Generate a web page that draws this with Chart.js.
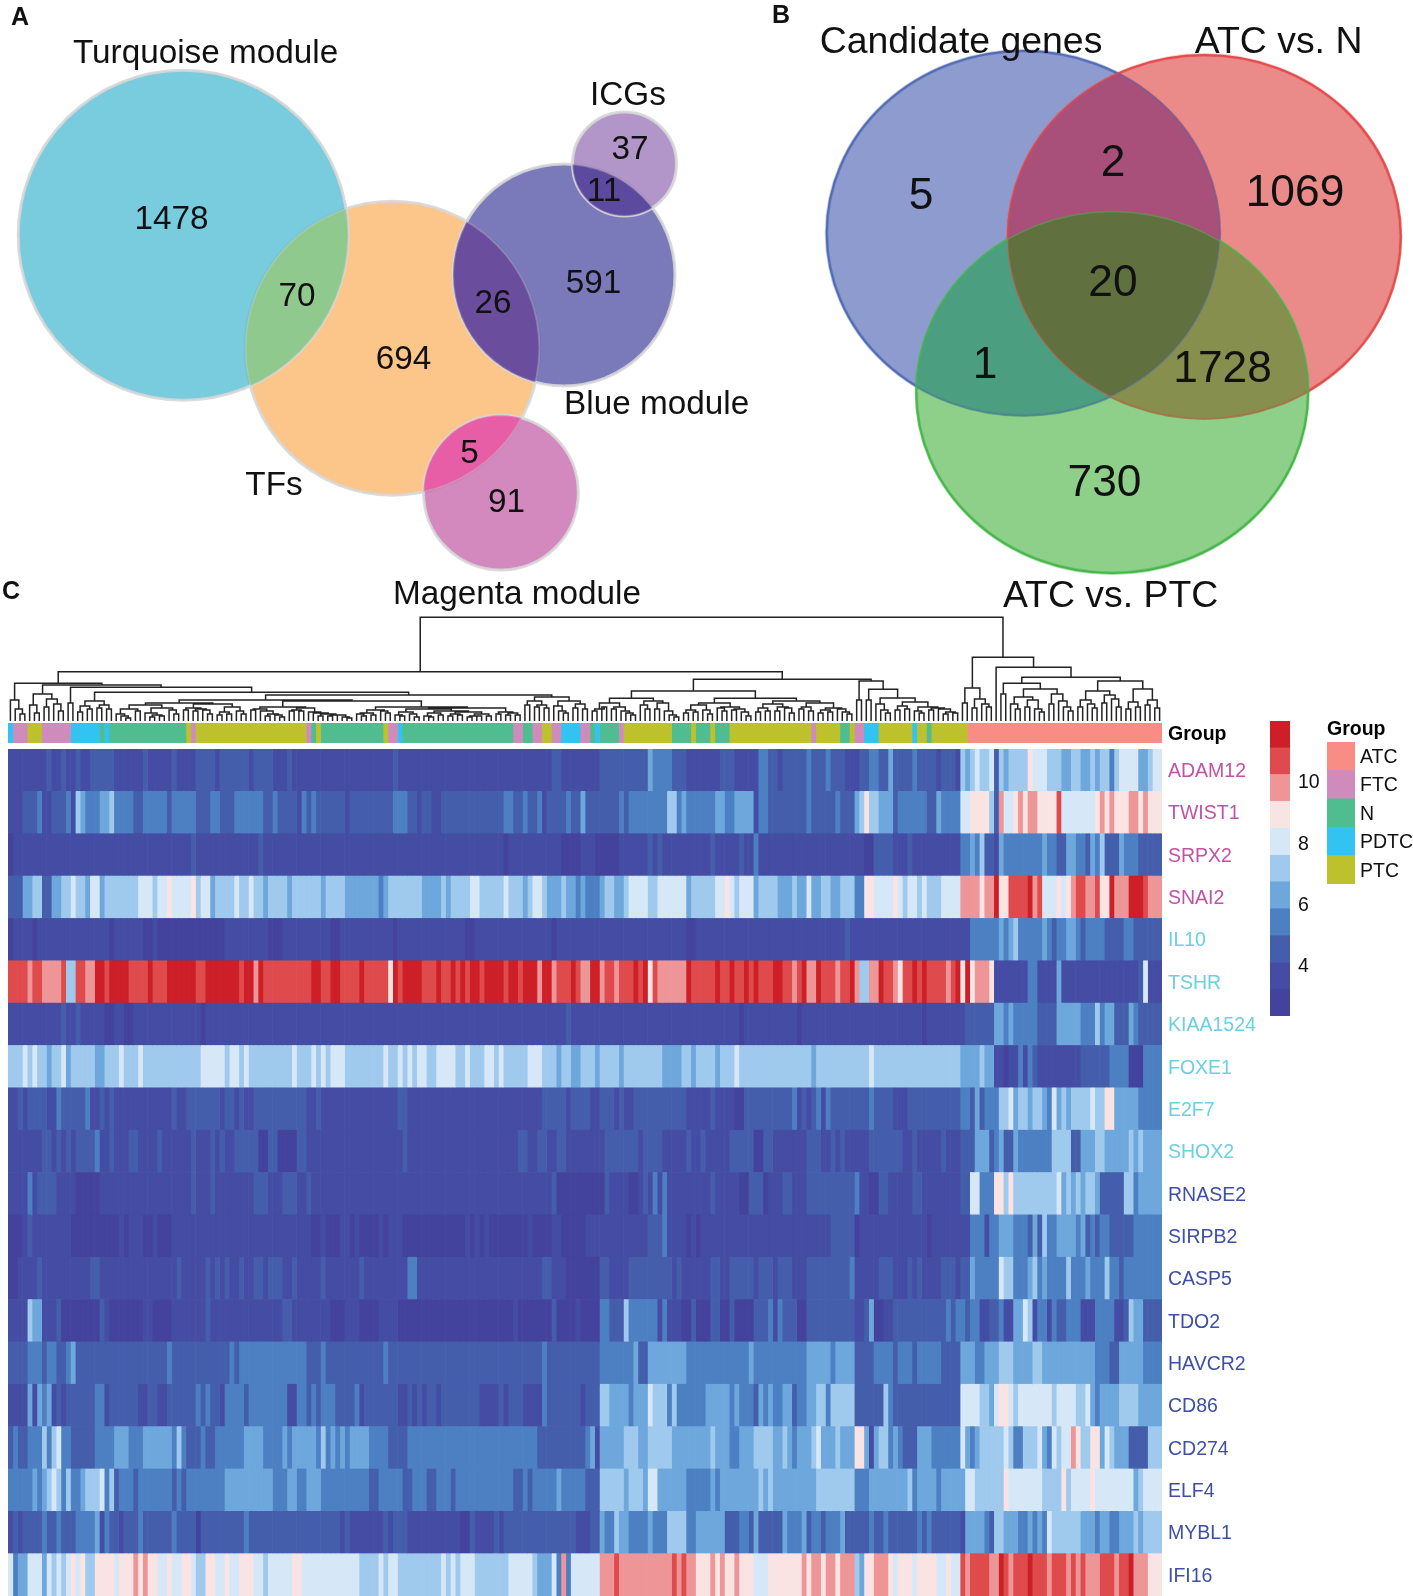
<!DOCTYPE html>
<html>
<head>
<meta charset="utf-8">
<title>Venn diagrams and heatmap</title>
<script src="https://cdn.jsdelivr.net/npm/chart.js@4"></script>
<style>
html, body { margin: 0; padding: 0; background: #fff; overflow: hidden; }
#page { position: relative; width: 1413px; height: 1596px; }
canvas { position: absolute; display: block; }
</style>
</head>
<body>
<div id="page">
  <canvas id="vennChart" width="1413" height="625" style="left:0;top:0"></canvas>
  <canvas id="dendroChart" width="1154" height="110" style="left:8px;top:612px"></canvas>
  <canvas id="groupChart" width="1292" height="32" style="left:8px;top:717px"></canvas>
  <canvas id="heatChart" width="1292" height="847" style="left:8px;top:749px"></canvas>
  <canvas id="barChart" width="70" height="295" style="left:1270px;top:721px"></canvas>
  <canvas id="legendChart" width="86" height="168" style="left:1327px;top:716px"></canvas>
</div>
<script>
const FONT = "'Liberation Sans', Arial, sans-serif";

// venn A circles (centre and radius)
const circleX = [392.4, 183.2, 500.9, 564, 624.5];
const circleY = [348.2, 235.2, 492.7, 274.9, 163.9];
const circleR = [147, 165, 77.4, 111, 52];
const circleFill = ['rgba(250,150,40,.55)', 'rgba(30,170,200,.6)', 'rgba(182,58,147,.6)', 'rgba(50,50,150,.65)', 'rgba(120,70,160,.57)'];

// venn B ellipses
const ellipseX = [1023.1, 1204.3, 1112.2];
const ellipseY = [233.1, 236.7, 392.4];
const ellipseRx = [196.5, 196.5, 196];
const ellipseRy = [182.2, 181.7, 180.7];
const ellipseFill = ['rgba(67,88,175,.6)', 'rgba(220,60,58,.6)', 'rgba(67,177,60,.6)'];
const ellipseLine = ['#4F6AB5', '#E24B4B', '#45B649'];

// colours of the overlaps: shapes are numbered circles first, then ellipses
const overlapShapes = [[0,1],[0,3],[0,2],[3,4],[5,6],[5,7],[6,7],[5,6,7]];
const overlapColors = ['#90C98E','#6A4D9D','#E85EA6','#5C4A9F','#A8507A','#4C9E80','#868F4E','#60703F'];

// text of the top panels: text, x, y, size, bold
const vennLabels = [
  ['A', 20, 18, 25, 1], ['B', 781, 16, 25, 1], ['C', 11, 592, 25, 1],
  ['Turquoise module', 205.6, 54, 33.3], ['ICGs', 628, 96, 33.3], ['Blue module', 656.6, 405, 33.3],
  ['TFs', 274, 486, 33.3], ['Magenta module', 517, 595, 33.3],
  ['1478', 171.5, 220, 33.3], ['70', 297, 297, 33.3], ['26', 493, 304, 33.3], ['591', 593.5, 284, 33.3],
  ['694', 403.5, 360, 33.3], ['37', 630, 150, 33.3], ['11', 604, 192, 33.3], ['5', 469.5, 454, 33.3], ['91', 506.5, 503, 33.3],
  ['Candidate genes', 961, 43, 37.4], ['ATC vs. N', 1278.6, 43, 37.4], ['ATC vs. PTC', 1110.6, 597, 37.4],
  ['5', 921, 197, 44.3], ['2', 1113, 164, 44.3], ['1069', 1295, 194, 44.3], ['20', 1113, 284, 44.3],
  ['1', 985, 366, 44.3], ['1728', 1222.6, 370, 44.3], ['730', 1104.5, 484, 44.3]
];

// sample groups along the top bar: column where each run starts, and its group
const groupNames = ['ATC', 'FTC', 'N', 'PDTC', 'PTC'];
const groupColors = ['#F98D86', '#D08BBD', '#4FBD8F', '#33C3F3', '#BDC22C'];
const groupStarts = [0,1,4,7,13,19,20,21,37,38,39,62,63,64,65,78,79,81,82,105,107,109,111,113,115,119,121,122,123,127,128,138,142,143,146,147,150,167,168,173,175,176,178,181,188,189,191,192,199.5,240];
const groupRuns = ['PDTC','FTC','PTC','FTC','PDTC','N','PDTC','N','PTC','FTC','PTC','FTC','N','PTC','N','PTC','FTC','PDTC','N','FTC','N','FTC','PTC','FTC','PDTC','FTC','N','PDTC','N','FTC','PTC','N','PTC','N','PTC','N','PTC','FTC','PTC','N','PTC','FTC','PDTC','PTC','PDTC','PTC','N','PTC','ATC'];

// colour scale
const scaleBreaks = [2.33,3.21,4.08,4.96,5.84,6.72,7.59,8.47,9.35,10.23,11.1,11.98];
const scaleColors = ['#43429C','#444DA3','#455EAC','#4C80C3','#6DA7DC','#9FC9ED','#D6E8F8','#FAE3E3','#EE9697','#DF4B4C','#CC1F27'];
const scaleTicks = [4,6,8,10];

// dendrogram: [height, left, right], 0 is one sample
const a0 = [21,0,[12,0,[7,0,0]]];
const a1 = [16,0,[8,0,0]];
const a2 = [22,[14,0,0],[17,0,[10,0,0]]];
const a3 = [18,0,0];
const a4 = [20,[15,[9,0,0],[12,0,0]],[16,[13,0,0],[12,0,0]]];
const b0 = [16,[12,[7,0,[5,0,[3,0,0]]],[10,0,0]],[13,[8,0,[6,[4,0,0],[5,0,0]]],[11,0,[7,0,0]]]];
const b1 = [17,[13,[11,0,0],[12,[10,0,0],[11,0,[7,0,0]]]],[14,[9,[6,0,0],[7,0,0]],[10,0,[7,0,0]]]];
const c0 = [14,[12,[11,0,0],[10,0,[7,[5,0,0],[6,0,[4,0,0]]]]],[13,[11,[10,0,0],[10,0,0]],[9,0,[8,0,[7,[5,0,0],[6,[5,0,0],[6,0,[4,0,[3,0,0]]]]]]]]];
const d0 = [11,[8,[7,0,[5,0,0]],[6,0,0]],[10,0,[8,0,0]]];
const d1 = [12,[9,[6,0,[5,0,0]],[7,0,[4,0,0]]],[10,[8,[5,0,[4,0,0]],[6,0,0]],[9,[7,[5,0,0],[6,0,0]],[7,[5,[4,0,0],[5,0,0]],[5,0,0]]]]];
const e0 = [9,[7,0,0],[8,[6,0,0],[6,0,0]]];
const f0 = [20,[16,0,0],[16,[14,0,0],[13,0,0]]];
const f1 = [20,[15,0,[10,0,[8,0,0]]],[17,[13,0,0],[12,0,0]]];
const g0 = [18,[12,[10,0,0],[14,0,0]],[14,[12,0,0],[10,0,[8,0,[6,0,0]]]]];
const g1 = [20,[16,0,[12,0,0]],[18,[12,0,0],[10,0,[6,0,[4,0,0]]]]];
const g2 = [18,[16,[11,[8,0,0],[9,0,0]],[11,0,[7,0,0]]],[14,[13,0,[10,0,0]],[12,[11,0,0],[9,0,[5,0,0]]]]];
const g3 = [20,[17,[13,[9,0,0],[10,0,0]],[14,[10,0,0],[13,0,[8,0,0]]]],[18,[14,[12,0,0],[10,0,0]],[13,[11,[8,0,0],[9,0,0]],[12,0,[9,0,[7,0,0]]]]]];
const h0 = [17,0,[11,0,[8,0,0]]];
const h1 = [15,[11,0,0],[12,0,0]];
const h2 = [14,[10,0,[8,0,0]],[13,[11,0,0],[12,0,[9,[7,0,0],[8,0,0]]]]];
const r0 = [33,[18,0,0],[22,[13,0,0],[17,0,[14,0,0]]]];
const r1 = [24,[17,0,[12,0,0]],[21,[14,0,0],[12,0,[9,0,0]]]];
const r2 = [27,[17,0,0],[20,0,[14,0,[10,0,0]]]];
const r3 = [21,[14,0,0],[17,0,[13,0,0]]];
const r4 = [26,[18,0,0],[22,0,[14,0,0]]];
const r5 = [19,[12,0,0],[14,0,0]];
const r6 = [21,[16,0,0],[13,0,0]];
const dendroTree = [103.7,
  [49.3,
    [37.7,a0,[36,[27,a1,a2],[33.7,a3,[28.7,a4,[26,[21,[18,b0,b1],[20,c0,[14,d0,[13,d1,e0]]]],[24,f0,f1]]]]]],
    [41.7,[30,[22.7,g0,g1],[22.7,g2,g3]],[40,[21,0,0],[31.7,[21,0,0],[23,h0,[19,h1,h2]]]]]],
  [63.7,r0,[53.7,0,[43.7,[37.7,[27,0,0],[32,r1,r2]],[40,[30,r3,r4],[32,r5,r6]]]]]];

// heatmap rows: start column, colour step, start column, colour step ...
const ADAM12 = [0,1,8,2,9,1,11,2,12,1,14,2,15,1,17,2,22,1,28,2,29,1,34,2,35,1,39,2,43,1,44,2,50,1,51,2,55,1,58,2,59,1,80,2,81,1,113,2,115,1,123,2,133,4,134,3,138,2,141,1,148,2,151,1,156,2,156,3,158,2,160,1,161,2,166,3,167,2,170,3,171,2,174,1,177,2,179,3,181,2,183,4,184,2,188,3,189,2,193,1,194,2,197,1,198,5,199,4,200,5,201,6,202,5,204,6,205,2,206,5,207,4,208,5,212,7,213,6,216,5,219,4,221,5,223,4,225,5,226,4,227,5,229,3,230,5,231,6,235,4,237,5,238,6];
const TWIST1 = [0,1,3,2,6,3,7,1,9,2,12,3,13,1,14,5,15,4,16,3,19,4,21,5,22,3,26,2,28,3,33,2,34,3,39,2,42,3,44,2,47,3,53,2,55,3,56,2,60,1,61,3,62,2,63,3,64,2,70,1,71,2,80,3,83,2,85,1,86,2,88,1,90,2,103,3,105,2,107,3,108,2,110,3,111,1,112,2,116,3,117,2,119,4,120,2,127,3,128,2,129,3,137,5,139,3,140,4,141,3,147,4,149,3,151,4,155,1,156,3,158,2,166,3,167,2,172,3,173,2,176,4,177,5,178,7,179,5,181,4,184,2,185,3,191,2,193,4,194,3,198,6,200,7,204,5,205,2,206,8,207,6,209,7,210,8,211,7,212,8,213,7,213,8,214,7,218,9,219,6,226,7,227,8,228,7,229,8,230,7,233,8,235,7,236,8,237,7];
const SRPX2 = [0,0,1,1,38,2,39,1,52,2,53,1,103,0,104,1,115,0,119,1,122,0,127,1,133,2,134,1,135,2,136,1,146,2,147,1,152,2,153,1,155,3,156,1,178,0,180,2,184,1,187,2,188,1,198,3,200,4,201,3,202,5,203,2,205,1,206,4,207,3,215,4,216,3,218,2,220,4,222,3,224,2,225,4,226,3,227,5,228,2,231,4,232,3,235,2];
const SNAI2 = [0,2,3,4,5,5,7,2,9,4,11,5,13,6,14,5,16,4,17,6,19,4,20,5,27,6,30,5,31,6,33,7,34,6,38,7,39,5,40,6,42,4,43,5,47,6,48,5,50,6,51,5,53,4,54,5,58,4,59,5,65,4,66,5,70,4,77,3,78,4,79,5,86,4,90,5,91,4,92,5,93,4,93,5,96,6,98,5,103,6,104,5,107,4,108,5,109,6,111,5,112,4,115,5,116,4,118,3,119,4,120,3,123,4,124,5,126,4,128,5,129,6,133,5,135,6,141,4,142,5,147,6,149,7,150,6,151,5,152,6,155,4,156,5,160,4,163,5,164,4,166,6,167,4,169,5,171,4,173,5,176,3,178,7,180,6,184,7,185,6,186,5,187,6,189,5,190,6,191,5,194,6,198,8,202,7,203,8,205,10,206,7,208,9,212,10,213,8,214,9,215,6,218,7,219,6,220,7,221,8,222,9,224,8,226,9,227,7,229,10,230,8,233,10,236,9,237,8];
const IL10 = [0,0,1,1,5,0,6,1,21,0,22,1,28,0,30,1,31,0,45,1,54,0,57,1,67,0,69,1,80,0,81,1,95,0,97,1,113,0,114,1,141,0,143,1,174,2,175,1,200,3,206,4,207,3,208,4,209,5,210,3,215,4,216,3,217,2,218,3,220,4,222,3,223,2,224,3,228,2,232,3,234,2];
const TSHR = [0,9,4,8,5,9,7,8,11,9,12,5,14,9,16,8,18,10,20,9,21,10,25,9,29,10,30,9,33,10,39,9,41,10,48,9,49,10,51,8,52,10,53,9,63,10,65,9,67,10,69,9,73,10,74,9,79,7,80,10,81,9,82,10,86,9,89,10,90,9,92,10,93,9,94,10,95,9,96,10,98,9,99,10,103,9,104,10,106,9,107,10,110,8,111,10,113,8,114,9,117,10,118,9,119,8,121,10,123,8,124,9,126,8,127,9,130,10,131,9,132,10,133,7,134,9,135,8,141,10,142,9,147,10,148,9,150,10,151,9,153,10,154,9,155,10,156,9,159,10,161,9,163,8,164,9,165,10,166,8,168,10,169,9,172,8,173,9,175,10,176,8,177,5,179,8,181,10,182,9,184,8,185,7,186,9,188,10,189,9,190,10,191,9,195,8,196,9,197,10,198,7,199,10,200,7,201,8,204,7,205,1,212,3,214,1,218,4,219,1,235,2,236,6,237,1];
const KIAA1524 = [0,1,11,2,12,1,14,2,15,1,20,0,22,1,24,0,26,1,40,0,41,1,116,2,117,1,152,0,153,1,164,0,165,1,190,0,191,1,199,2,205,4,207,3,208,4,209,3,214,2,218,4,223,3,226,5,227,3,228,4,230,2,233,4,234,3,235,2];
const FOXE1 = [0,5,3,6,4,5,5,6,6,5,8,4,9,5,11,6,12,4,13,5,18,4,20,5,23,6,24,5,27,6,28,5,40,6,45,5,46,6,48,5,49,6,50,5,59,6,60,5,63,6,64,5,65,6,66,5,67,6,70,5,78,6,79,5,81,6,82,5,83,6,84,5,85,6,87,5,89,6,93,5,95,6,96,5,99,6,101,5,102,6,103,5,108,6,111,5,114,4,115,5,117,4,119,5,122,4,123,5,127,4,128,5,136,4,140,5,142,4,143,5,147,4,148,5,151,6,152,5,167,4,168,5,179,6,180,5,198,4,202,5,203,4,205,1,207,0,208,1,210,3,211,1,212,3,213,2,214,1,223,2,229,3,233,0,236,3];
const E2F7 = [0,1,2,2,3,1,4,2,8,1,10,3,11,2,16,3,17,1,19,2,20,1,21,2,22,1,34,2,35,1,37,2,44,1,45,2,47,1,48,2,49,1,51,2,62,1,64,2,65,1,81,2,83,1,111,2,116,1,117,2,121,1,123,2,126,1,127,2,128,1,130,2,141,1,146,2,147,1,151,0,153,2,163,3,164,1,165,2,166,1,167,2,168,3,169,1,170,3,171,2,179,3,180,2,184,1,187,2,198,3,200,2,201,4,202,2,203,3,206,5,208,6,209,4,210,5,212,4,213,5,215,4,216,3,217,6,218,4,219,5,220,4,221,5,225,6,226,5,228,7,230,4,235,3];
const SHOX2 = [0,1,7,2,9,1,10,2,11,1,12,2,13,1,14,2,18,3,19,1,21,2,22,1,25,2,27,1,31,2,32,1,38,2,39,1,42,2,43,1,44,2,45,1,47,2,52,0,54,2,56,0,60,2,62,1,82,2,83,1,106,2,108,1,110,2,112,1,114,2,116,1,124,2,131,1,132,2,136,1,138,1,141,2,142,1,144,2,145,1,150,2,155,0,157,2,159,1,166,2,169,1,171,2,172,1,173,2,174,1,179,2,186,1,188,2,189,1,194,2,195,1,198,2,201,4,204,2,205,3,206,4,207,2,209,4,210,3,217,5,221,2,223,4,226,5,228,4,233,5,234,4,235,5,236,4];
const RNASE2 = [0,1,4,3,5,1,6,2,10,1,14,0,19,1,38,2,39,1,42,2,43,1,51,2,54,1,57,2,60,1,62,2,63,1,113,2,114,0,119,0,124,2,125,1,129,0,131,1,132,2,133,1,134,3,135,1,136,3,137,1,146,2,147,1,152,0,154,2,157,0,158,1,161,2,163,1,166,2,176,3,177,1,179,0,181,2,183,1,188,2,190,1,198,2,200,6,202,3,205,7,207,5,208,7,209,5,218,6,219,4,220,5,221,4,222,5,223,4,224,5,226,4,227,2,232,5,234,3,235,4];
const SIRPB2 = [0,0,3,1,4,2,5,1,13,0,23,1,24,0,25,1,28,0,30,1,31,0,34,1,63,0,65,1,66,0,69,1,71,0,72,1,73,0,77,1,78,0,79,1,82,0,95,1,96,0,97,1,98,0,99,1,100,0,108,1,109,0,113,1,115,0,120,1,133,2,136,3,137,1,141,0,142,1,143,0,144,1,171,2,176,0,177,1,191,0,192,1,200,3,203,1,204,3,206,4,209,3,212,2,213,4,214,2,215,5,216,3,218,4,222,3,223,4,224,2,225,3,226,2,227,3,229,2,234,3];
const CASP5 = [0,0,2,1,6,2,7,1,17,2,19,1,35,2,36,1,41,2,42,1,43,2,44,1,45,2,46,1,48,2,49,1,51,2,53,1,54,2,57,1,59,2,60,1,65,2,66,1,73,2,74,1,83,3,85,1,111,2,113,1,116,0,123,2,125,1,129,2,138,1,139,2,140,1,146,2,148,1,150,2,155,1,156,2,159,1,160,2,163,1,166,2,175,3,176,1,181,2,184,1,187,2,188,1,189,2,190,1,194,2,197,1,198,2,200,4,201,3,206,6,207,5,209,3,212,4,213,5,214,3,215,4,216,3,220,5,221,3,224,4,225,3,228,5,229,3,231,2,232,3];
const TDO2 = [0,1,4,5,5,4,7,1,10,2,11,0,19,2,20,1,21,0,28,1,30,0,34,1,41,2,42,1,57,2,59,1,67,0,70,1,73,0,77,1,81,0,105,1,106,0,113,2,114,0,118,1,119,0,123,3,125,2,128,5,129,3,135,1,136,3,137,1,140,0,142,2,143,0,146,2,148,0,150,2,151,0,155,2,158,3,159,1,160,3,161,2,164,0,166,2,176,1,178,2,179,4,180,0,182,1,184,2,195,3,196,2,197,3,199,2,200,3,202,1,204,2,206,3,207,1,209,4,211,6,212,5,213,1,214,3,216,1,217,3,218,2,220,3,223,1,226,3,230,1,232,2,233,5,234,4,236,2];
const HAVCR2 = [0,2,4,3,7,2,8,3,10,2,12,3,13,4,14,2,33,3,34,2,46,3,47,2,48,3,62,2,65,3,66,2,78,3,79,2,111,3,112,2,123,3,130,4,131,2,133,4,141,3,154,4,155,3,166,4,171,3,172,4,173,3,173,4,176,2,180,3,184,2,185,3,188,2,189,3,194,2,198,4,201,3,203,4,206,5,209,4,213,5,215,4,226,3,229,2,231,4,236,3];
const CD86 = [0,1,4,4,5,1,6,4,7,3,8,4,9,1,10,2,11,1,12,2,18,3,20,1,21,2,27,1,29,2,31,1,33,2,39,3,40,2,41,3,42,2,44,1,45,3,49,2,50,3,58,1,60,3,62,2,63,3,64,2,65,3,68,2,72,3,73,1,74,2,81,1,83,2,84,1,85,2,86,1,87,2,89,1,90,2,98,1,102,2,103,1,104,2,107,1,111,3,112,2,119,1,120,2,123,5,125,4,129,3,130,4,133,6,134,5,137,3,138,5,139,3,141,3,145,4,150,3,151,4,152,3,155,2,156,4,157,3,158,4,159,3,161,4,163,2,164,3,166,4,168,5,170,3,171,5,176,2,182,5,183,3,184,2,191,2,196,2,198,6,202,5,204,4,205,6,206,7,208,6,209,5,210,6,217,5,218,6,222,5,224,6,225,4,226,3,227,4,231,5,235,4];
const CD274 = [0,2,1,3,2,2,4,3,7,5,8,3,9,5,10,6,11,3,13,2,18,3,22,4,25,3,28,4,34,3,35,5,36,3,37,2,40,3,41,2,43,3,49,4,53,3,57,4,58,3,59,4,64,3,65,5,66,3,67,4,68,3,69,4,70,3,71,4,75,3,79,2,83,3,110,2,120,3,121,4,122,1,123,4,128,5,131,4,133,5,138,4,146,5,147,4,150,3,152,4,155,5,159,4,161,5,162,4,163,3,164,4,167,5,168,6,169,4,172,5,173,4,176,7,178,4,179,1,180,4,181,5,183,3,184,4,185,3,186,2,189,4,192,3,198,6,199,4,200,3,201,4,202,5,207,6,208,5,209,3,211,5,214,6,215,4,216,3,217,6,218,5,219,6,221,8,222,7,223,5,225,7,227,4,228,6,229,5,230,4,233,2,237,5];
const ELF4 = [0,3,5,4,6,3,7,4,8,5,9,6,10,5,11,3,12,5,13,3,15,4,16,5,19,6,20,3,21,5,22,2,23,3,26,2,27,3,34,2,35,3,36,2,37,3,45,4,55,3,58,4,60,3,62,4,65,3,75,2,77,3,82,2,84,3,87,2,89,3,92,2,93,3,105,2,107,3,108,2,109,3,114,4,115,3,120,2,123,5,128,4,129,5,132,4,133,6,135,4,141,3,146,4,147,3,148,4,156,5,157,4,158,5,159,4,168,5,176,3,179,4,187,5,188,3,189,4,193,3,194,4,199,6,201,5,207,7,208,6,209,5,209,6,215,5,219,7,220,5,221,6,225,7,226,6,234,4,235,5,236,6];
const MYBL1 = [0,1,1,2,2,1,3,2,7,3,8,2,10,3,11,2,14,3,18,4,19,1,20,3,21,2,23,1,24,2,27,3,28,2,34,3,35,2,39,0,40,2,49,3,50,2,69,1,70,2,71,1,78,2,79,1,80,2,83,1,94,0,96,2,97,1,101,2,102,1,103,2,118,1,121,2,123,4,124,3,126,5,127,4,129,3,133,4,134,3,137,5,141,3,143,4,149,2,152,3,154,2,155,4,156,2,161,4,162,3,165,4,166,2,167,3,169,2,170,3,173,4,174,2,179,3,180,2,182,3,183,2,189,3,190,2,191,3,192,2,198,1,199,4,203,3,204,2,205,5,207,4,210,3,212,4,213,3,214,4,215,3,216,6,217,5,223,4,226,3,227,4,229,3,231,4,234,5,235,4,236,5];
const IFI16 = [0,6,1,3,2,4,4,6,7,4,8,6,9,5,10,6,11,5,12,6,13,7,14,6,15,7,16,5,18,7,22,6,23,7,26,8,27,7,28,8,29,7,31,6,33,7,34,6,36,7,38,6,39,5,41,7,43,6,45,7,46,6,48,7,51,6,53,5,54,6,59,7,61,6,73,5,77,6,78,5,79,6,81,5,90,6,91,5,92,6,93,5,94,6,97,5,104,6,109,5,110,4,113,6,114,3,115,8,116,3,117,6,123,8,126,9,127,8,138,9,139,8,140,9,141,8,143,7,146,8,147,7,148,8,149,7,151,8,152,7,155,6,158,7,165,8,166,7,167,8,169,7,170,8,172,7,173,8,176,5,177,4,178,7,180,8,183,7,184,6,185,7,188,6,189,7,193,6,195,7,196,6,198,9,199,8,200,9,204,8,206,10,207,9,208,8,209,9,212,10,213,9,216,8,217,9,220,8,221,9,222,8,223,9,224,8,227,9,230,8,231,9,233,10,234,8,237,7];

const geneNames = ['ADAM12','TWIST1','SRPX2','SNAI2','IL10','TSHR','KIAA1524','FOXE1','E2F7','SHOX2','RNASE2','SIRPB2','CASP5','TDO2','HAVCR2','CD86','CD274','ELF4','MYBL1','IFI16'];
const geneRows = [ADAM12,TWIST1,SRPX2,SNAI2,IL10,TSHR,KIAA1524,FOXE1,E2F7,SHOX2,RNASE2,SIRPB2,CASP5,TDO2,HAVCR2,CD86,CD274,ELF4,MYBL1,IFI16];
const geneColors = ['#C451A5','#C451A5','#C451A5','#C451A5','#6CCFE2','#6CCFE2','#6CCFE2','#6CCFE2','#6CCFE2','#6CCFE2','#3D4FA7','#3D4FA7','#3D4FA7','#3D4FA7','#3D4FA7','#3D4FA7','#3D4FA7','#3D4FA7','#3D4FA7','#3D4FA7'];
const columnCount = 240;

Chart.defaults.animation = false;
Chart.defaults.font.family = FONT;
Chart.defaults.plugins.legend.display = false;
Chart.defaults.plugins.tooltip.enabled = false;
Chart.defaults.events = [];
Chart.defaults.layout.autoPadding = false;

const hidden = (min, max, extra) => Object.assign({ display: false, min, max }, extra);

// an ellipse as a point image, since bubbles can only be round
const ellipseImage = (i) => {
  const cv = document.createElement('canvas');
  cv.width = Math.ceil(ellipseRx[i] * 2 + 6);
  cv.height = Math.ceil(ellipseRy[i] * 2 + 6);
  const c = cv.getContext('2d');
  c.beginPath();
  c.ellipse(cv.width / 2, cv.height / 2, ellipseRx[i], ellipseRy[i], 0, 0, Math.PI * 2);
  c.fillStyle = ellipseFill[i];
  c.fill();
  c.lineWidth = 2.5;
  c.strokeStyle = ellipseLine[i];
  c.stroke();
  return cv;
};
const ellipseImages = ellipseX.map((_, i) => ellipseImage(i));

// repaints the lens shapes, alpha alone does not give the reference's mixes
const vennOverlaps = {
  id: 'vennOverlaps',
  afterDatasetsDraw(chart) {
    const { ctx, chartArea, scales: { x, y } } = chart;
    const count = circleX.length;
    const outline = (id) => {
      const isCircle = id < count;
      const k = isCircle ? id : id - count;
      const px = x.getPixelForValue(isCircle ? circleX[k] : ellipseX[k]);
      const py = y.getPixelForValue(isCircle ? circleY[k] : ellipseY[k]);
      ctx.beginPath();
      ctx.ellipse(px, py, isCircle ? circleR[k] : ellipseRx[k], isCircle ? circleR[k] : ellipseRy[k], 0, 0, Math.PI * 2);
    };
    overlapShapes.forEach((ids, i) => {
      ctx.save();
      ids.forEach((id) => { outline(id); ctx.clip(); });
      ctx.fillStyle = overlapColors[i];
      ctx.fillRect(chartArea.left, chartArea.top, chartArea.width, chartArea.height);
      ctx.restore();
    });
    ctx.save();
    for (let id = 0; id < count + ellipseX.length; id++) {
      outline(id);
      ctx.lineWidth = id < count ? 2 : 2;
      ctx.strokeStyle = id < count ? '#D7D7D7' : ellipseLine[id - count];
      ctx.globalAlpha = id < count ? 0.3 : 0.35;
      ctx.stroke();
    }
    ctx.restore();
  }
};

const vennText = {
  id: 'vennText',
  afterDatasetsDraw(chart) {
    const { ctx, scales: { x, y } } = chart;
    ctx.save();
    ctx.fillStyle = '#111';
    ctx.textAlign = 'center';
    ctx.textBaseline = 'middle';
    vennLabels.forEach(([text, px, py, size, bold]) => {
      ctx.font = `${bold ? 'bold ' : ''}${size}px ${FONT}`;
      ctx.fillText(text, x.getPixelForValue(px), y.getPixelForValue(py));
    });
    ctx.restore();
  }
};

new Chart(document.getElementById('vennChart'), {
  type: 'bubble',
  plugins: [vennOverlaps, vennText],
  data: {
    datasets: [
      {
        type: 'bubble',
        data: circleX.map((x, i) => ({ x, y: circleY[i], r: circleR[i] })),
        backgroundColor: circleFill,
        borderColor: 'rgba(215,215,215,.85)',
        borderWidth: 3,
        clip: false
      },
      {
        type: 'scatter',
        data: ellipseX.map((x, i) => ({ x, y: ellipseY[i] })),
        pointRadius: 10,
        pointStyle: (ctx) => ellipseImages[ctx.dataIndex],
        clip: false
      }
    ]
  },
  options: {
    responsive: false,
    scales: { x: hidden(0, 1413), y: hidden(0, 625, { reverse: true }) }
  }
});

// dendrogram outline, walked from the tree so every branch meets its children
const dendroPath = [];
let leafCounter = 0;
const walkTree = (node) => {
  if (node === 0) return { x: leafCounter++ + 0.5, h: 0 };
  const left = walkTree(node[1]);
  const right = walkTree(node[2]);
  dendroPath.push({ x: left.x, y: left.h }, { x: left.x, y: node[0] }, { x: right.x, y: node[0] }, { x: right.x, y: right.h }, { x: NaN, y: NaN });
  return { x: (left.x + right.x) / 2, h: node[0] };
};
walkTree(dendroTree);

new Chart(document.getElementById('dendroChart'), {
  type: 'scatter',
  data: {
    datasets: [{
      data: dendroPath,
      showLine: true,
      spanGaps: false,
      borderColor: '#222',
      borderWidth: 1.5,
      pointRadius: 0
    }]
  },
  options: {
    responsive: false,
    scales: { x: hidden(0, columnCount), y: hidden(-1, 109) }
  }
});

const rightAxis = (width, extra) => Object.assign({
  position: 'right',
  grid: { display: false, drawTicks: false },
  border: { display: false },
  afterFit(scale) {
    scale.width = width;
    scale.paddingTop = 0;
    scale.paddingBottom = 0;
  }
}, extra);

new Chart(document.getElementById('groupChart'), {
  type: 'bar',
  data: {
    labels: ['Group'],
    datasets: groupRuns.map((name, i) => ({
      data: [groupStarts[i + 1] - groupStarts[i]],
      backgroundColor: groupColors[groupNames.indexOf(name)]
    }))
  },
  options: {
    responsive: false,
    indexAxis: 'y',
    layout: { padding: { top: 6, bottom: 6 } },
    datasets: { bar: { barPercentage: 1, categoryPercentage: 1 } },
    scales: {
      x: hidden(0, columnCount, { stacked: true }),
      y: rightAxis(138, {
        stacked: true,
        ticks: { padding: 6, labelOffset: 2, color: '#000', font: { size: 19.5, weight: 'bold' } }
      })
    }
  }
});

// turn each row's runs into one colour step per column
const expandRow = (row) => {
  const cells = new Array(columnCount).fill(0);
  for (let i = 0; i < row.length; i += 2) {
    const end = i + 2 < row.length ? row[i + 2] : columnCount;
    for (let c = row[i]; c < end; c++) cells[c] = row[i + 1];
  }
  return cells;
};
const geneCells = geneRows.map(expandRow);

new Chart(document.getElementById('heatChart'), {
  type: 'bar',
  data: {
    labels: geneNames,
    datasets: Array.from({ length: columnCount }, (_, c) => ({
      data: geneNames.map(() => 1),
      backgroundColor: geneCells.map((cells) => scaleColors[cells[c]])
    }))
  },
  options: {
    responsive: false,
    indexAxis: 'y',
    datasets: { bar: { barPercentage: 1, categoryPercentage: 1 } },
    scales: {
      x: hidden(0, columnCount, { stacked: true }),
      y: rightAxis(138, {
        stacked: true,
        ticks: {
          padding: 6,
          labelOffset: 1.5,
          autoSkip: false,
          font: { size: 19.5 },
          color: (ctx) => geneColors[ctx.index]
        }
      })
    }
  }
});

new Chart(document.getElementById('barChart'), {
  type: 'bar',
  data: {
    labels: [''],
    datasets: scaleColors.map((color, i) => ({
      data: [[scaleBreaks[i], scaleBreaks[i + 1]]],
      backgroundColor: color
    }))
  },
  options: {
    responsive: false,
    datasets: { bar: { barPercentage: 1, categoryPercentage: 1 } },
    scales: {
      x: { display: false, stacked: true },
      y: rightAxis(50, {
        min: scaleBreaks[0],
        max: scaleBreaks[scaleBreaks.length - 1],
        afterBuildTicks(scale) { scale.ticks = scaleTicks.map((value) => ({ value })); },
        ticks: { padding: 8, labelOffset: 1.5, color: '#111', font: { size: 19.5 } }
      })
    }
  }
});

new Chart(document.getElementById('legendChart'), {
  type: 'bar',
  data: {
    labels: groupNames,
    datasets: [{
      data: groupNames.map(() => 1),
      backgroundColor: groupColors
    }]
  },
  options: {
    responsive: false,
    indexAxis: 'y',
    datasets: { bar: { barPercentage: 1, categoryPercentage: 1 } },
    plugins: {
      title: {
        display: true,
        text: 'Group',
        align: 'start',
        color: '#000',
        font: { size: 19.5, weight: 'bold' },
        padding: { top: 2, bottom: 0.6 }
      }
    },
    scales: {
      x: hidden(0, 1),
      y: rightAxis(58, { ticks: { padding: 5, labelOffset: 1.5, color: '#111', font: { size: 19.5 } } })
    }
  }
});
</script>
</body>
</html>
